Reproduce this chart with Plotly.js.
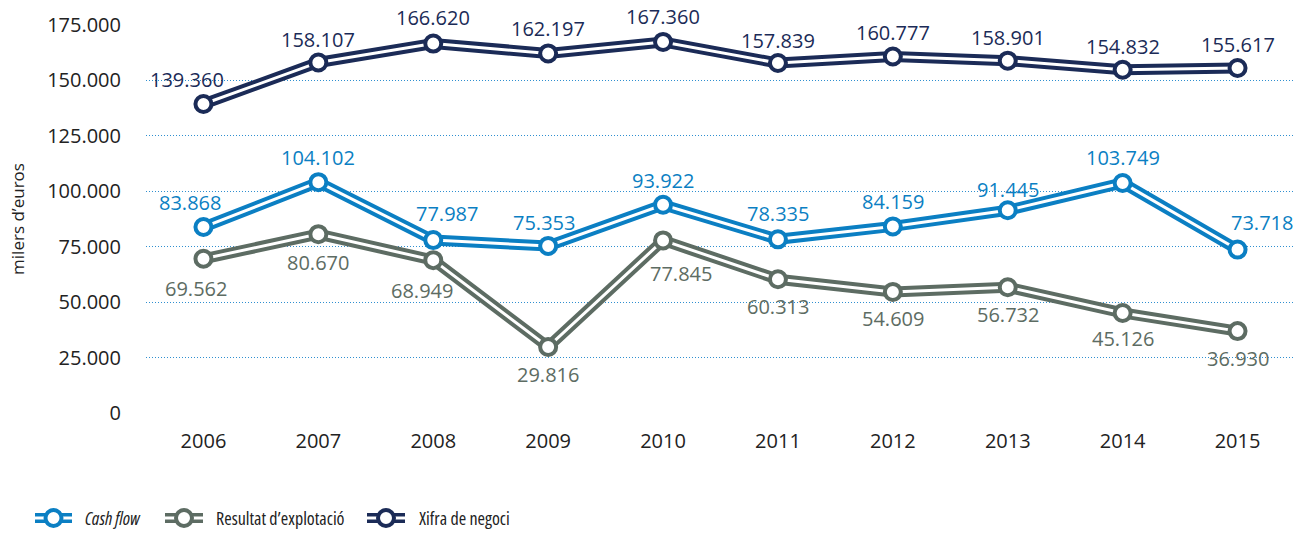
<!DOCTYPE html>
<html>
<head>
<meta charset="utf-8">
<script src="https://cdn.plot.ly/plotly-3.0.1.min.js"></script>
<style>
html,body{margin:0;padding:0;background:#fff;}
#chart{width:1308px;height:533px;}
g.annotation[data-index="30"] text,
g.annotation[data-index="31"] text,
g.annotation[data-index="32"] text { font-stretch: 78%; }
</style>
</head>
<body>
<div id="chart"></div>
<script>
// ---- data ----
const years = ['2006','2007','2008','2009','2010','2011','2012','2013','2014','2015'];
const cashFlow = [83868,104102,77987,75353,93922,78335,84159,91445,103749,73718];
const resultat = [69562,80670,68949,29816,77845,60313,54609,56732,45126,36930];
const xifra = [139360,158107,166620,162197,167360,157839,160777,158901,154832,155617];
const seriesNames = ['Cash flow','Resultat d\u2019explotació','Xifra de negoci'];
const yTickVals = [0,25000,50000,75000,100000,125000,150000,175000];
const yTickText = ['0','25.000','50.000','75.000','100.000','125.000','150.000','175.000'];

// ---- style ----
const colors = ['#0b7fc3','#5d6c63','#1b2b57'];
const FONT = 'Open Sans, sans-serif';
const labelOffsets = [
  // cash flow [dx, dy]
  [[-13,25],[0,25],[14,27],[-4,23],[0,24],[0,26],[0,25],[0,21],[0,25],[24,27]],
  // resultat
  [[-7,-30],[0,-28],[-11,-30],[0,-28],[18,-33],[0,-27],[0,-27],[0,-27],[0,-26],[0,-27]],
  // xifra
  [[-16,25],[0,23],[0,26],[0,25],[0,25],[0,23],[0,24],[0,23],[0,23],[0,23]]
];

function fmt(v){
  const s = String(v);
  if (s.length <= 3) return s;
  return s.slice(0, s.length-3) + '.' + s.slice(s.length-3);
}

const allSeries = [cashFlow, resultat, xifra];
const traces = [];
const annotations = [];
allSeries.forEach((vals, i) => {
  traces.push({x: years, y: vals, type:'scatter', mode:'lines',
    line:{color: colors[i], width: 11}, hoverinfo:'skip', showlegend:false, cliponaxis:false});
  traces.push({x: years, y: vals, type:'scatter', mode:'lines',
    line:{color: '#ffffff', width: 3}, hoverinfo:'skip', showlegend:false, cliponaxis:false});
  traces.push({x: years, y: vals, type:'scatter', mode:'markers', name: seriesNames[i],
    marker:{symbol:'circle', size:16, color:'#ffffff', line:{color: colors[i], width:4}},
    showlegend:false, cliponaxis:false});
  vals.forEach((v, j) => {
    annotations.push({x: j, y: v, xref:'x', yref:'y', text: fmt(v), showarrow:false,
      xshift: labelOffsets[i][j][0], yshift: labelOffsets[i][j][1],
      font:{family: FONT, size: 20, color: colors[i]}});
  });
});

// ---- custom legend (pixel -> paper) ----
const W = 1308, H = 533, ML = 146, MR = 13, MT = 25, MB = 120;
const PW = W - ML - MR, PH = H - MT - MB;
const px = p => (p - ML) / PW;
const py = p => (H - MB - p) / PH;
const legendItems = [
  {x0: 35, x1: 72, tx: 83, italic: true},
  {x0: 165, x1: 203, tx: 214, italic: false},
  {x0: 367, x1: 405, tx: 417, italic: false}
];
const LY = 518;
const shapes = [];
legendItems.forEach((it, i) => {
  shapes.push({type:'line', xref:'paper', yref:'paper', x0: px(it.x0), x1: px(it.x1), y0: py(LY), y1: py(LY),
    line:{color: colors[i], width: 10}});
  shapes.push({type:'line', xref:'paper', yref:'paper', x0: px(it.x0), x1: px(it.x1), y0: py(LY), y1: py(LY),
    line:{color: '#ffffff', width: 3}});
  const cx = (it.x0 + it.x1) / 2, r = 8;
  shapes.push({type:'circle', xref:'paper', yref:'paper', x0: px(cx - r), x1: px(cx + r), y0: py(LY + r), y1: py(LY - r),
    fillcolor:'#ffffff', line:{color: colors[i], width: 4}});
  annotations.push({xref:'paper', yref:'paper', x: px(it.tx), y: py(LY), xanchor:'left', yanchor:'middle',
    align:'left', text: it.italic ? '<i>' + seriesNames[i] + '</i>' : seriesNames[i], showarrow:false,
    font:{family: FONT, size: 18, color:'#222222'}});
});

const layout = {
  width: W, height: H,
  margin: {l: ML, r: MR, t: MT, b: MB},
  paper_bgcolor:'#ffffff', plot_bgcolor:'#ffffff',
  showlegend:false,
  font:{family: FONT, color:'#222222'},
  xaxis: {type:'category', categoryorder:'array', categoryarray: years, range:[-0.5, 9.5],
    showgrid:false, zeroline:false, showline:false, ticks:'', ticklabelstandoff: 14,
    tickfont:{family: FONT, size: 20, color:'#222222'}, fixedrange:true},
  yaxis: {range:[0,175000], tickvals: yTickVals, ticktext: yTickText,
    showgrid:true, gridcolor:'#2f8fd0', griddash:'1px,2px', gridwidth:1,
    zeroline:false, showline:false, ticks:'', ticklabelstandoff: 24,
    tickfont:{family: FONT, size: 20, color:'#222222'},
    title:{text:'milers d\u2019euros', font:{family: FONT, size: 17, color:'#222222'}, standoff: 18},
    fixedrange:true},
  annotations: annotations,
  shapes: shapes
};

Plotly.newPlot('chart', traces, layout, {displayModeBar:false, staticPlot:true});
</script>
</body>
</html>
